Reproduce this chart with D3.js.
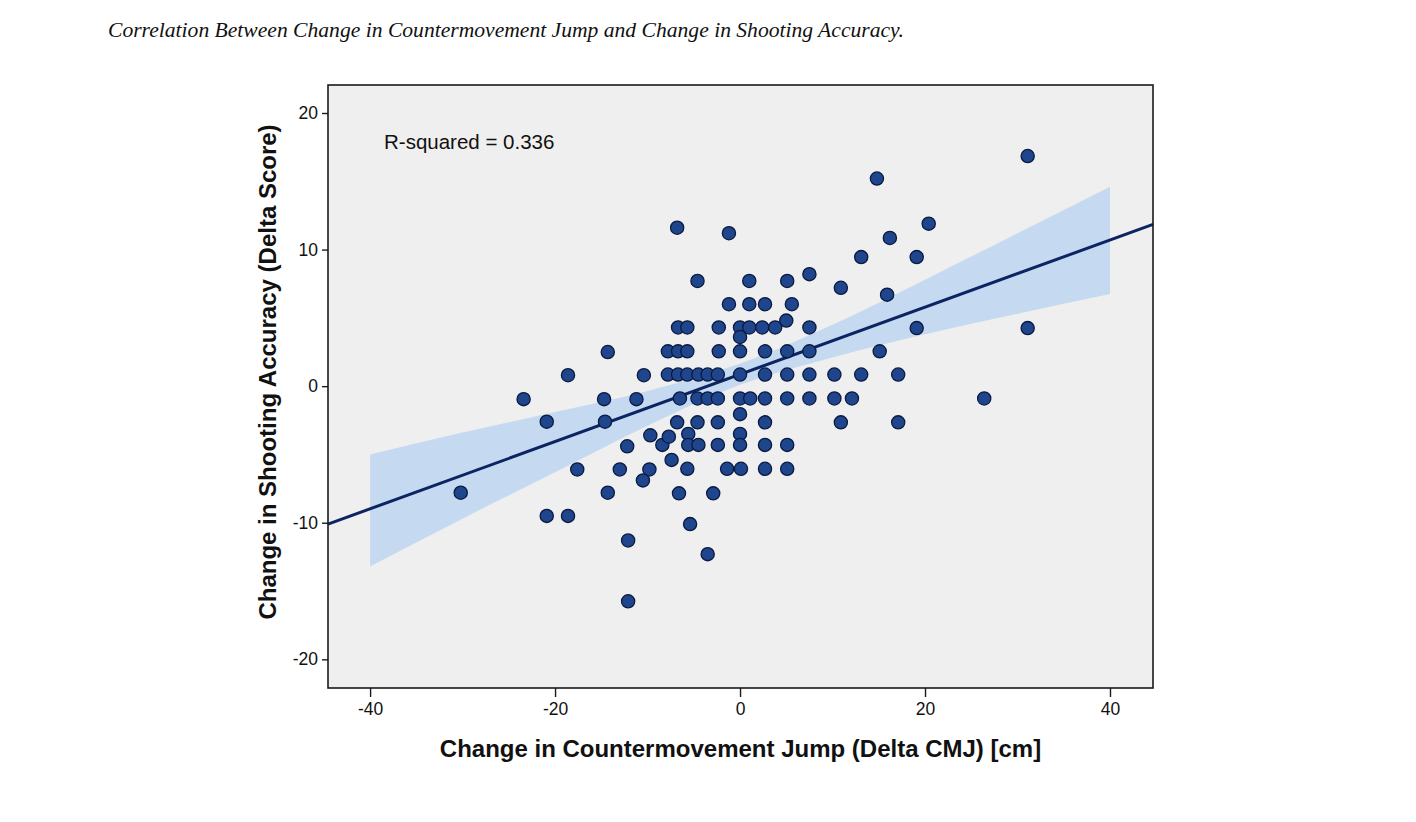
<!DOCTYPE html>
<html>
<head>
<meta charset="utf-8">
<script src="https://cdn.jsdelivr.net/npm/d3@7"></script>
<style>
    body { margin: 0; background: #fff; }
    svg { display: block; }
</style>
</head>
<body>
<div id="chart"></div>
<script>
// change in CMJ (cm) and change in shooting accuracy
const cmj = [
    -30.2, -23.4, -20.9, -20.9, -18.6, -18.6, -17.6, -14.3, -14.7, -14.6,
    -14.3, -12.2, -13.0, -12.1, -12.1, -11.2, -10.4, -9.7, -9.8, -10.5,
    -8.4, -7.7, -7.4, -6.8, -1.2, -4.6, 1.0, 5.1, 7.5, 10.9,
    13.1, 19.1, 16.2, 20.4, 14.8, 31.1, 15.9, 31.1, 19.1, 15.1,
    26.4, -1.2, 1.0, 2.7, 5.6, 5.0, -6.7, -5.7, -2.3, 0,
    1.0, 2.4, 3.8, 7.5, 0, -7.8, -6.7, -5.7, -2.3, 0,
    2.7, 5.1, 7.5, -7.8, -6.7, -5.7, -4.5, -3.5, -2.4, 0,
    2.7, 5.1, 7.5, 10.2, 13.1, 17.1, -6.5, -4.6, -3.5, -2.4,
    0, 1.1, 2.7, 5.1, 7.5, 10.2, 12.1, 0, -6.8, -4.6,
    -2.4, 2.7, 10.9, 17.1, -5.6, 0, -5.6, -4.5, -2.4, 0,
    2.7, 5.1, -5.7, -1.4, 0.1, 2.7, 5.1, -6.6, -2.9, -5.4,
    -3.5
];
const shooting = [
    -7.8, -0.95, -2.6, -9.5, 0.8, -9.5, -6.1, 2.5, -0.95, -2.6,
    -7.8, -4.4, -6.1, -11.3, -15.75, -0.95, 0.8, -3.6, -6.1, -6.9,
    -4.3, -3.7, -5.4, 11.6, 11.2, 7.7, 7.7, 7.7, 8.2, 7.2,
    9.45, 9.45, 10.85, 11.9, 15.2, 16.85, 6.7, 4.25, 4.25, 2.55,
    -0.9, 6.0, 6.0, 6.0, 6.0, 4.8, 4.3, 4.3, 4.3, 4.3,
    4.3, 4.3, 4.3, 4.3, 3.6, 2.55, 2.55, 2.55, 2.55, 2.55,
    2.55, 2.55, 2.55, 0.85, 0.85, 0.85, 0.85, 0.85, 0.85, 0.85,
    0.85, 0.85, 0.85, 0.85, 0.85, 0.85, -0.9, -0.9, -0.9, -0.9,
    -0.9, -0.9, -0.9, -0.9, -0.9, -0.9, -0.9, -2.05, -2.65, -2.65,
    -2.65, -2.65, -2.65, -2.65, -3.5, -3.5, -4.3, -4.3, -4.3, -4.3,
    -4.3, -4.3, -6.05, -6.05, -6.05, -6.05, -6.05, -7.85, -7.85, -10.1,
    -12.3
];

const xTicks = [-40, -20, 0, 20, 40];
const yTicks = [-20, -10, 0, 10, 20];

// fit line and its confidence band as drawn
const fitIntercept = 0.86;
const fitSlope = 0.246;
const bandX  = [-40, -30, -20, -10, 0, 10, 20, 30, 40];
const bandHi = [-5.0, -3.4, -1.9, -0.35, 1.65, 4.5, 7.8, 11.2, 14.6];
const bandLo = [-13.2, -9.7, -6.3, -2.9, 0.1, 2.1, 3.8, 5.3, 6.75];

const rSquared = 0.336;

const width = 1416;
const height = 822;

const plot = { left: 328, right: 1153, top: 85, bottom: 688 };

const svg = d3.select('#chart')
    .append('svg')
    .attr('width', width)
    .attr('height', height);

svg.append('rect')
    .attr('width', width)
    .attr('height', height)
    .attr('fill', '#fff');

const x = d3.scaleLinear().domain([-44.55, 44.65]).range([plot.left, plot.right]);
const y = d3.scaleLinear().domain([-22.1, 22.05]).range([plot.bottom, plot.top]);

// title
svg.append('text')
    .attr('x', 108)
    .attr('y', 37)
    .attr('font-family', '"Liberation Serif", "Times New Roman", serif')
    .attr('font-style', 'italic')
    .attr('font-size', '21.6px')
    .attr('fill', '#111')
    .text('Correlation Between Change in Countermovement Jump and Change in Shooting Accuracy.');

// plot background
svg.append('rect')
    .attr('x', plot.left)
    .attr('y', plot.top)
    .attr('width', plot.right - plot.left)
    .attr('height', plot.bottom - plot.top)
    .attr('fill', '#efefef');

const g = svg.append('g');

// confidence band
const band = d3.area()
    .x(function (d, i) { return x(bandX[i]); })
    .y0(function (d, i) { return y(bandLo[i]); })
    .y1(function (d, i) { return y(bandHi[i]); })
    .curve(d3.curveMonotoneX);

g.append('path')
    .datum(bandX)
    .attr('d', band)
    .attr('fill', '#c5daf1')
    .attr('stroke', 'none');

// fit line across the whole plot
const xd = x.domain();
g.append('line')
    .attr('x1', x(xd[0]))
    .attr('y1', y(fitIntercept + fitSlope * xd[0]))
    .attr('x2', x(xd[1]))
    .attr('y2', y(fitIntercept + fitSlope * xd[1]))
    .attr('stroke', '#0c2462')
    .attr('stroke-width', 3);

// points
g.selectAll('circle')
    .data(cmj)
    .enter()
    .append('circle')
    .attr('cx', function (d) { return x(d); })
    .attr('cy', function (d, i) { return y(shooting[i]); })
    .attr('r', 6.6)
    .attr('fill', '#1f458c')
    .attr('stroke', '#0b1a40')
    .attr('stroke-width', 1.3);

// frame
svg.append('rect')
    .attr('x', plot.left)
    .attr('y', plot.top)
    .attr('width', plot.right - plot.left)
    .attr('height', plot.bottom - plot.top)
    .attr('fill', 'none')
    .attr('stroke', '#1a1a1a')
    .attr('stroke-width', 1.6);

// axes, plain hyphen for negatives like the original
const xAxis = d3.axisBottom(x)
    .tickValues(xTicks)
    .tickSize(9)
    .tickPadding(6)
    .tickFormat(function (d) { return String(d); });

const yAxis = d3.axisLeft(y)
    .tickValues(yTicks)
    .tickSize(6)
    .tickPadding(4)
    .tickFormat(function (d) { return String(d); });

const gx = svg.append('g')
    .attr('transform', 'translate(0,' + plot.bottom + ')')
    .call(xAxis);

const gy = svg.append('g')
    .attr('transform', 'translate(' + plot.left + ',0)')
    .call(yAxis);

[gx, gy].forEach(function (a) {
    a.select('.domain').remove();
    a.selectAll('line').attr('stroke', '#1a1a1a').attr('stroke-width', 1.4);
    a.selectAll('text')
        .attr('font-family', '"Liberation Sans", Arial, sans-serif')
        .attr('font-size', '17.5px')
        .attr('fill', '#111');
});

// annotation
svg.append('text')
    .attr('x', 384)
    .attr('y', 149)
    .attr('font-family', '"Liberation Sans", Arial, sans-serif')
    .attr('font-size', '20.5px')
    .attr('fill', '#111')
    .text('R-squared = ' + rSquared.toFixed(3));

// axis titles
svg.append('text')
    .attr('x', (plot.left + plot.right) / 2)
    .attr('y', 757)
    .attr('text-anchor', 'middle')
    .attr('font-family', '"Liberation Sans", Arial, sans-serif')
    .attr('font-weight', 'bold')
    .attr('font-size', '24px')
    .attr('fill', '#111')
    .text('Change in Countermovement Jump (Delta CMJ) [cm]');

svg.append('text')
    .attr('transform', 'translate(276,' + 372 + ') rotate(-90)')
    .attr('text-anchor', 'middle')
    .attr('font-family', '"Liberation Sans", Arial, sans-serif')
    .attr('font-weight', 'bold')
    .attr('font-size', '24px')
    .attr('fill', '#111')
    .text('Change in Shooting Accuracy (Delta Score)');
</script>
</body>
</html>
